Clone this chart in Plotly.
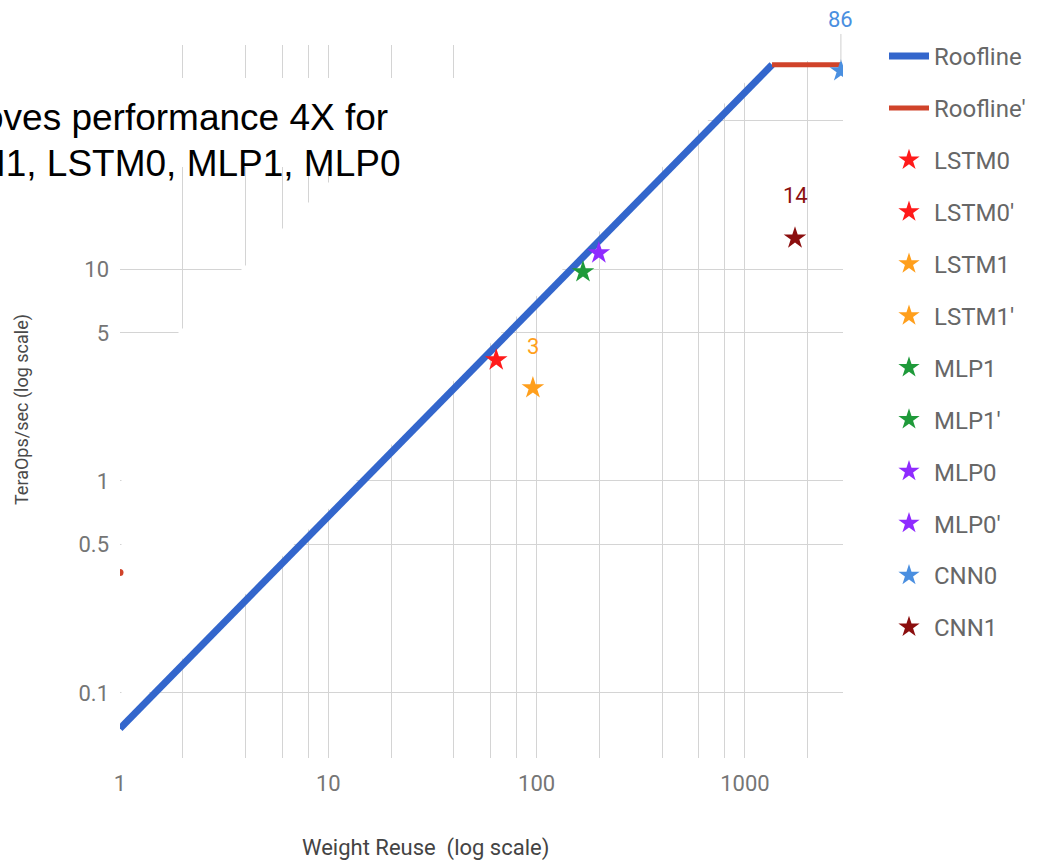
import numpy as np
import plotly.graph_objects as go

# ---------------- data ----------------
roof_x = [1, 1350]
roof_y = [0.068, 92]
roof2_x = [1350, 2890]
roof2_y = [92, 92]
roof2_dot_x = [1]
roof2_dot_y = [0.37]

series_names = ["LSTM0", "LSTM0'", "LSTM1", "LSTM1'", "MLP1", "MLP1'",
                "MLP0", "MLP0'", "CNN0", "CNN1"]
weight_reuse = [64, None, 96, None, 167, None, 199, None, 2890, 1740]
teraops = [3.72, None, 2.75, None, 9.7, None, 11.9, None, 86, 14.0]
point_labels = [None, None, "3", None, None, None, None, None, "86", "14"]
series_colors = ["#ff1a1a", "#ff1a1a", "#ff9f1c", "#ff9f1c", "#1f9a3a", "#1f9a3a",
                 "#8f2bff", "#8f2bff", "#4a8fe0", "#8b0f0f"]

x_grid = [1, 2, 4, 6, 8, 10, 20, 40, 60, 80, 100, 200, 400, 600, 800, 1000, 2000]
x_ticktext = ["1", "", "", "", "", "10", "", "", "", "", "100", "", "", "", "", "1000", ""]
y_grid = [0.1, 0.5, 1, 5, 10, 50]
y_ticktext = ["0.1", "0.5", "1", "5", "10", ""]

title_lines = ["Improves performance 4X for", "LSTM1, LSTM0, MLP1, MLP0"]

BLUE = "#3366cc"
RED = "#d0432a"

# ---------------- layout geometry (pixels) ----------------
W, H = 1041, 860
L, R, T, B = 120, 198, 45, 102
PW, PH = W - L - R, H - T - B
XR = [0, 3.471]
YR = [-1.307, 2.057]


def px(xp):
    return (xp - L) / PW


def py(yp):
    return (H - B - yp) / PH


def pix2x(xp):
    return 10 ** (XR[0] + px(xp) * (XR[1] - XR[0]))


def pix2y(yp):
    return 10 ** (YR[0] + py(yp) * (YR[1] - YR[0]))


fig = go.Figure()
fig.add_trace(go.Scatter(x=roof_x, y=roof_y, mode="lines", name="Roofline",
                         line=dict(color=BLUE, width=7), legendgroup="g0"))
fig.add_trace(go.Scatter(x=roof2_x, y=roof2_y, mode="lines", name="Roofline'",
                         line=dict(color=RED, width=5), legendgroup="g1"))
fig.add_trace(go.Scatter(x=roof2_dot_x, y=roof2_dot_y, mode="markers",
                         marker=dict(color=RED, size=7), showlegend=False,
                         legendgroup="g1", hoverinfo="skip"))
for i, name in enumerate(series_names):
    fig.add_trace(go.Scatter(x=[weight_reuse[i]], y=[teraops[i]], mode="markers",
                             name=name, legendgroup="s%d" % i,
                             marker=dict(symbol="star", size=17, color=series_colors[i],
                                         line=dict(width=0))))

annotations = []
for i, lab in enumerate(point_labels):
    if lab is None:
        continue
    stem = lab == "86"
    ay = {"3": -41, "14": -43, "86": -51}[lab]
    annotations.append(dict(
        x=np.log10(weight_reuse[i]), y=np.log10(teraops[i]), xref="x", yref="y",
        text=lab, showarrow=True, arrowhead=0, arrowwidth=1,
        arrowcolor="#cfcfcf" if stem else "rgba(0,0,0,0)",
        ax=0, ay=ay, standoff=9,
        font=dict(family="Roboto", size=22, color=series_colors[i])))

# title text (cut off at the left edge)
annotations.append(dict(x=px(390), y=py(117), xref="paper", yref="paper",
                        xanchor="right", yanchor="middle", showarrow=False,
                        text=title_lines[0],
                        font=dict(family="Liberation Sans, Arial", size=37, color="black")))
annotations.append(dict(x=px(403), y=py(163), xref="paper", yref="paper",
                        xanchor="right", yanchor="middle", showarrow=False,
                        text=title_lines[1],
                        font=dict(family="Liberation Sans, Arial", size=37, color="black")))
# axis titles
annotations.append(dict(x=px(22), y=py(410), xref="paper", yref="paper",
                        xanchor="center", yanchor="middle", showarrow=False,
                        textangle=-90, text="TeraOps/sec (log scale)",
                        font=dict(family="Roboto", size=18, color="#4a4a4a")))
annotations.append(dict(x=px(425), y=py(848), xref="paper", yref="paper",
                        xanchor="center", yanchor="middle", showarrow=False,
                        text="Weight Reuse\u00a0 (log scale)",
                        font=dict(family="Roboto", size=22, color="#444444")))

# white overlay (region above roofline hides gridlines), given in pixels
poly = [(118.5, 78), (470, 78), (470, 40), (846, 40), (846, 61), (766, 61),
        (121.5, 721), (121.5, 389.5), (344, 167), (118.5, 167)]
path = "M " + " L ".join("%.6g,%.6g" % (pix2x(a), pix2y(b)) for a, b in poly) + " Z"
shapes = [dict(type="path", path=path, xref="x", yref="y",
               fillcolor="white", line=dict(width=0), layer="between")]

fig.update_layout(
    width=W, height=H,
    margin=dict(l=L, r=R, t=T, b=B, autoexpand=False),
    paper_bgcolor="white", plot_bgcolor="white",
    font=dict(family="Roboto", color="#757575"),
    xaxis=dict(type="log", range=XR, tickmode="array", tickvals=x_grid,
               ticktext=x_ticktext, showgrid=True, gridcolor="#d4d4d4", gridwidth=1,
               zeroline=False, showline=False, ticks="",
               tickfont=dict(family="Roboto", size=22, color="#757575"),
               ticklabelstandoff=10),
    yaxis=dict(type="log", range=YR, tickmode="array", tickvals=y_grid,
               ticktext=y_ticktext, showgrid=True, gridcolor="#d4d4d4", gridwidth=1,
               zeroline=False, showline=False, ticks="",
               tickfont=dict(family="Roboto", size=22, color="#757575"),
               ticklabelstandoff=10),
    legend=dict(x=px(884), y=py(34), xanchor="left", yanchor="top",
                font=dict(family="Roboto", size=24, color="#676767"),
                tracegroupgap=17.7, bgcolor="rgba(0,0,0,0)", itemwidth=40,
                maxheight=840),
    showlegend=True,
    annotations=annotations,
    shapes=shapes,
)

fig.write_html("out.html", post_script="document.body.style.margin='0';",
               config={"displayModeBar": False})
